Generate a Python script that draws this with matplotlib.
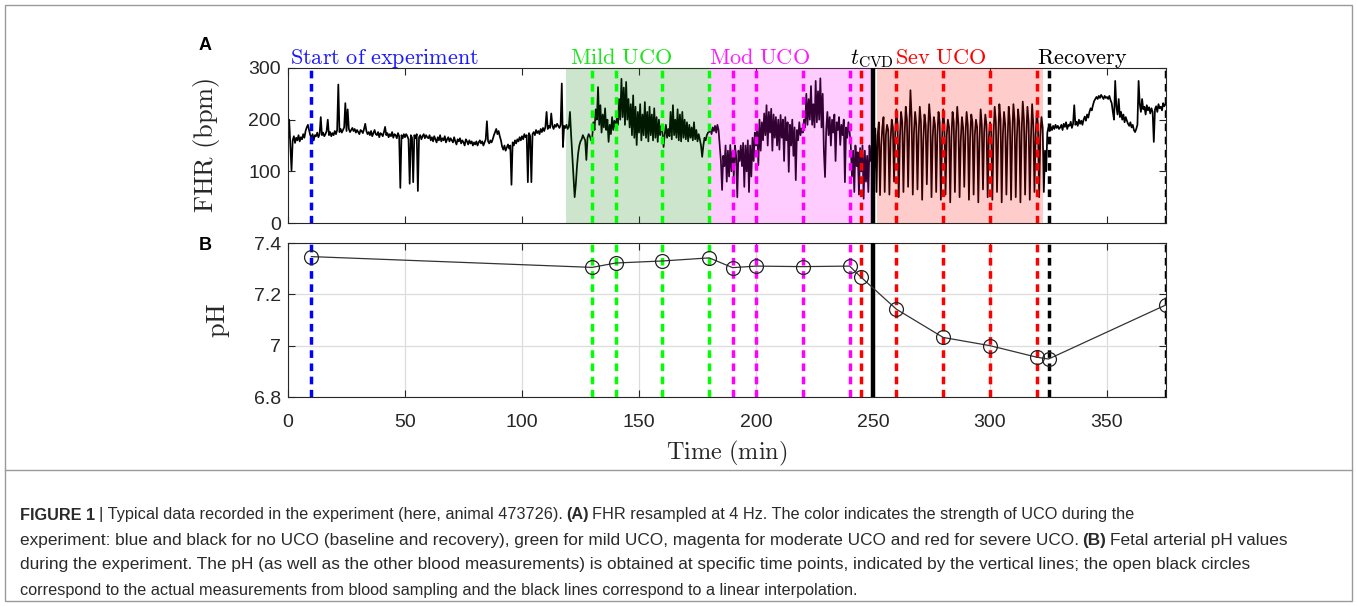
import numpy as np
import matplotlib
matplotlib.use("Agg")
import matplotlib.pyplot as plt
from matplotlib.transforms import blended_transform_factory
from matplotlib.patches import Rectangle
from matplotlib.lines import Line2D

plt.rcParams["font.family"] = ["Liberation Sans", "DejaVu Sans"]
plt.rcParams["mathtext.fontset"] = "cm"

# FHR (bpm), one value every 0.5 min, split by experiment phase
fhr_baseline = np.array("""
158 200 150 102 160 168 155 165 160 170 158 166 162 172 165 178 185 190 180 170
165 172 160 170 168 175 166 172 205 170 175 168 172 178 200 170 176 168 174 170
178 172 180 268 176 182 175 180 185 232 178 220 182 176 180 184 178 182 175 180
176 172 180 178 174 182 192 178 172 176 170 178 168 174 180 172 170 176 166 174
172 168 176 186 170 174 166 172 168 176 165 172 170 164 174 168 68 170 164 172
166 172 168 162 76 170 165 79 170 164 172 62 166 170 162 168 172 164 170 166
164 170 160 166 158 168 162 156 166 160 170 158 164 160 168 156 162 166 158 164
160 156 166 158 152 162 158 164 154 160 156 150 162 158 152 160 154 158 150 156
152 158 150 156 160 154 158 150 156 162 197 158 154 160 156 162 170 176 182 172
178 168 160 148 142 150 140 146 152 144 150 74 156 150 160 154 162 158 166 160
168 162 172 166 170 79 174 168 79 172 176 170 180 174 178 172 182 176 184 178
186 215 182 188 184 212 188 182 190 186 192 188 184 190 270 147 188 184 190 182
""".split(), dtype=float)

fhr_mild = np.array("""
186 215 170 130 90 50 75 110 135 150 158 162 170 165 160 122 165 172 168 160
165 195 180 220 200 263 190 228 175 210 185 222 180 200 157 190 172 205 180 198
185 202 190 240 200 279 205 262 190 273 200 240 185 230 170 247 165 225 151 215
175 230 160 210 170 234 165 215 158 225 170 210 160 222 165 205 157 200 170 188
176 147 172 190 165 182 168 215 162 228 170 200 165 220 160 210 158 215 165 200
162 195 158 190 165 185 160 195 162 180 158 172 162 150 128 150 165 160 170 175
""".split(), dtype=float)

fhr_moderate = np.array("""
176 182 172 185 178 188 175 190 180 150 120 64 130 110 150 80 140 90 151 100
140 90 150 130 50 140 120 150 110 155 70 150 100 160 60 150 90 165 120 175
150 185 112 200 140 195 160 212 170 228 150 215 175 221 140 210 165 205 150 200
142 209 165 200 120 205 160 195 99 190 150 200 130 185 83 180 160 195 170 183
175 200 185 250 190 240 200 265 190 230 185 275 195 255 200 280 185 250 140 89
180 215 170 205 150 200 175 210 120 195 180 205 151 190 170 200 79 185 165 195
176 150 90 140 60 150 110 137 55 145 100 150 47 140 80 130 60 150 120 140
""".split(), dtype=float)

fhr_severe = np.array("""
137 100 183 60 170 195 54 150 185 205 60 170 190 180 55 160 200 185 80 175
220 190 50 165 215 195 60 170 225 200 70 180 257 205 55 175 215 190 65 170
225 195 45 160 210 190 75 175 230 200 50 165 205 190 60 170 215 195 45 160
220 190 55 170 200 185 40 165 215 195 60 175 225 190 50 160 205 185 70 170
215 190 45 165 210 195 55 170 200 185 40 160 220 190 65 175 210 190 50 165
195 180 45 170 225 195 60 165 230 200 40 170 215 190 55 160 225 195 45 170
230 200 50 165 220 195 40 175 235 200 55 170 225 195 45 165 230 190 60 170
""".split(), dtype=float)

fhr_recovery = np.array("""
215 190 50 170 205 185 60 140 100 175 185 178 186 180 188 182 190 184 188 182
185 190 180 192 186 195 182 190 188 196 184 192 228 190 196 188 200 192 198 190
200 206 198 210 204 215 222 218 228 236 240 244 240 246 242 248 244 240 246 242
244 240 246 238 232 215 200 275 225 210 240 205 215 200 210 195 205 198 192 188
195 185 190 180 176 182 190 275 230 215 240 220 225 210 228 218 224 212 222 215
157 220 226 215 230 222 225 218 232 226 230
""".split(), dtype=float)

FHR_STEP = 0.5  # min between samples

# arterial pH from blood sampling
ph_time = [10, 130, 140, 160, 180, 190, 200, 220, 240, 245, 260, 280, 300, 320, 325, 375]
ph_value = [7.347, 7.305, 7.322, 7.33, 7.342, 7.304, 7.31, 7.308, 7.31, 7.266,
            7.142, 7.032, 7.0, 6.955, 6.948, 7.158]

# sampling times per phase
base_marks = [10]
mild_marks = [130, 140, 160, 180]
mod_marks = [190, 200, 220, 240]
sev_marks = [245, 260, 280, 300, 320]
rec_marks = [325, 375]
t_cvd = 250

# occlusion periods (start, end, colour)
phases = [(118.7, 180, (0.0, 0.5, 0.0)),
          (180, 250, (1.0, 0.0, 1.0)),
          (251.5, 322.5, (1.0, 0.0, 0.0))]

# phase names above panel A: (x, text, colour)
phase_labels = [(1, r"$\mathrm{Start\ of\ experiment}$", (0.1, 0.1, 1.0)),
                (120.5, r"$\mathrm{Mild\ UCO}$", (0.1, 0.9, 0.1)),
                (180, r"$\mathrm{Mod\ UCO}$", (1.0, 0.1, 1.0)),
                (240, r"$t_{\mathrm{CVD}}$", "black"),
                (259.5, r"$\mathrm{Sev\ UCO}$", (1.0, 0.0, 0.0)),
                (320, r"$\mathrm{Recovery}$", "black")]

AX_COLOR = "#262626"
W, H = 1357, 606


def style_axes(ax):
    for s in ax.spines.values():
        s.set_color(AX_COLOR)
        s.set_linewidth(0.8)
    ax.tick_params(direction="in", top=True, right=True, length=5,
                   width=0.8, color=AX_COLOR, labelcolor=AX_COLOR,
                   labelsize=14, pad=5)
    ax.tick_params(axis="x", pad=12)


def sample_lines(ax):
    dash = dict(lw=2.5, dashes=(2.2, 1.6), zorder=4)
    for t in base_marks:
        ax.axvline(t, color=(0, 0, 1), **dash)
    for t in mild_marks:
        ax.axvline(t, color=(0, 1, 0), **dash)
    for t in mod_marks:
        ax.axvline(t, color=(1, 0, 1), **dash)
    for t in sev_marks:
        ax.axvline(t, color=(1, 0, 0), **dash)
    for t in rec_marks:
        ax.axvline(t, color="black", **dash)
    ax.axvline(t_cvd, color="black", lw=3.2, zorder=5)


def draw_runs(fig, x_px, y_px, runs, **kw):
    # caption line made of plain and bold pieces
    renderer = fig.canvas.get_renderer()
    space = 3.6
    for text, bold in runs:
        t = fig.text(x_px / W, 1 - y_px / H, text, va="center",
                     fontweight="bold" if bold else "normal", **kw)
        bb = t.get_window_extent(renderer)
        x_px = bb.x1 + space


fig = plt.figure(figsize=(W / 100, H / 100), dpi=100)

ax_left = 288 / W
ax_width = 877.5 / W
axA = fig.add_axes([ax_left, 1 - 223 / H, ax_width, 155 / H])
axB = fig.add_axes([ax_left, 1 - 397 / H, ax_width, 154 / H])

# panel A: FHR
fhr = np.concatenate([fhr_baseline, fhr_mild, fhr_moderate, fhr_severe, fhr_recovery])
fhr_time = np.arange(len(fhr)) * FHR_STEP
axA.plot(fhr_time, fhr, color="black", lw=1.25, zorder=2)
for start, end, col in phases:
    axA.axvspan(start, end, color=col, alpha=0.2, lw=0, zorder=3)
sample_lines(axA)
axA.set_xlim(0, 375)
axA.set_ylim(0, 300)
axA.set_yticks([0, 100, 200, 300])
axA.set_xticks(np.arange(0, 376, 50))
axA.set_xticklabels([])
style_axes(axA)
axA.set_ylabel(r"$\mathrm{FHR\ (bpm)}$", fontsize=19, color=AX_COLOR)
axA.yaxis.set_label_coords(-0.075, 0.5)

trans = blended_transform_factory(axA.transData, axA.transAxes)
for x, label, col in phase_labels:
    axA.text(x, 1.025, label, transform=trans, color=col, fontsize=16,
             ha="left", va="baseline")

# panel B: pH
axB.plot(ph_time, ph_value, color="#333333", lw=0.9, marker="o", ms=10,
         mfc="none", mec="#222222", mew=0.9, zorder=6)
sample_lines(axB)
axB.set_xlim(0, 375)
axB.set_ylim(6.8, 7.4)
axB.set_xticks(np.arange(0, 376, 50))
axB.set_yticks([6.8, 7.0, 7.2, 7.4])
axB.set_yticklabels(["6.8", "7", "7.2", "7.4"])
axB.grid(True, color="#dcdcdc", lw=0.9, zorder=0)
axB.set_axisbelow(True)
style_axes(axB)
axB.set_ylabel(r"$\mathrm{pH}$", fontsize=19, color=AX_COLOR)
axB.yaxis.set_label_coords(-0.064, 0.5)
axB.set_xlabel(r"$\mathrm{Time\ (min)}$", fontsize=17.5, color=AX_COLOR)
axB.xaxis.set_label_coords(0.5, -0.27)

fig.text(199 / W, 1 - 46 / H, "A", fontsize=13, fontweight="bold", va="center")
fig.text(199 / W, 1 - 246 / H, "B", fontsize=13, fontweight="bold", va="center")

# frame and caption box
fig.add_artist(Rectangle((5 / W, 5 / H), 1347 / W, 596 / H, transform=fig.transFigure,
                         fill=False, ec="#9a9a9a", lw=1.0))
fig.add_artist(Line2D([5 / W, 1352 / W], [1 - 470 / H, 1 - 470 / H],
                      transform=fig.transFigure, color="#9a9a9a", lw=1.0))

cap = dict(color="#2a2a2a", family=["Liberation Sans Narrow", "Liberation Sans"])
draw_runs(fig, 20, 515, [("FIGURE 1", True),
                         ("| Typical data recorded in the experiment (here, animal 473726).", False),
                         ("(A)", True),
                         ("FHR resampled at 4 Hz. The color indicates the strength of UCO during the", False)],
          fontsize=11.7, **cap)
draw_runs(fig, 20, 540, [("experiment: blue and black for no UCO (baseline and recovery), green for mild UCO, "
                          "magenta for moderate UCO and red for severe UCO.", False),
                         ("(B)", True),
                         ("Fetal arterial pH values", False)], fontsize=12.4, **cap)
draw_runs(fig, 20, 565, [("during the experiment. The pH (as well as the other blood measurements) is obtained "
                          "at specific time points, indicated by the vertical lines; the open black circles", False)],
          fontsize=12.4, **cap)
draw_runs(fig, 20, 590, [("correspond to the actual measurements from blood sampling and the black lines "
                          "correspond to a linear interpolation.", False)], fontsize=11.7, **cap)

fig.savefig("out.png", dpi=100)
